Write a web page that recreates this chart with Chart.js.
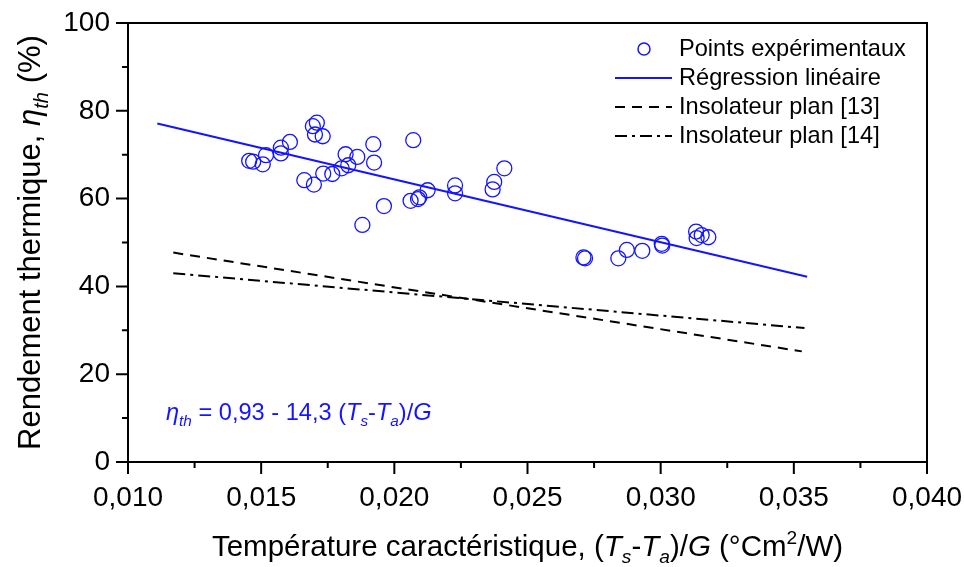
<!DOCTYPE html>
<html>
<head>
<meta charset="utf-8">
<script src="https://cdn.jsdelivr.net/npm/chart.js@4.4.0/dist/chart.umd.min.js"></script>
<style>
  html, body { margin: 0; padding: 0; background: #fff; }
</style>
</head>
<body>
<canvas id="myChart" width="964" height="567"></canvas>
<script>
const pointsX = [0.01455, 0.01470, 0.01506, 0.01518, 0.01574, 0.01574, 0.01608, 0.01694, 0.01709, 0.01702,
    0.01731, 0.01662, 0.01698, 0.01733, 0.01767, 0.01802, 0.01817, 0.01827, 0.01861, 0.01921,
    0.01924, 0.01961, 0.01880, 0.02071, 0.02061, 0.02094, 0.02089, 0.02125, 0.02228, 0.02228,
    0.02369, 0.02375, 0.02413, 0.02710, 0.02716, 0.02841, 0.02873, 0.02931, 0.03004, 0.03006,
    0.03133, 0.03135, 0.03154, 0.03179];
const pointsY = [68.6, 68.4, 67.8, 69.9, 71.6, 70.3, 72.9, 76.5, 77.3, 74.6,
    74.2, 64.2, 63.2, 65.7, 65.6, 66.9, 70.1, 67.6, 69.5, 72.4,
    68.2, 58.3, 54.0, 73.3, 59.5, 60.3, 59.9, 61.9, 63.0, 61.2,
    62.1, 63.8, 66.9, 46.6, 46.4, 46.4, 48.3, 48.1, 49.7, 49.3,
    52.5, 51.0, 51.7, 51.2];

// lines
const regX = [0.0111, 0.0355];
const regY = [77.1, 42.2];
const ref13X = [0.0117, 0.0353];
const ref13Y = [47.7, 25.2];
const ref14X = [0.0117, 0.0354];
const ref14Y = [43.0, 30.5];

const seriesLabels = ['Points expérimentaux', 'Régression linéaire', 'Insolateur plan [13]', 'Insolateur plan [14]'];

// axes
const xTicks = [0.010, 0.015, 0.020, 0.025, 0.030, 0.035, 0.040];
const yTicks = [0, 20, 40, 60, 80, 100];

const BLUE = '#1414ff';
const FONT = '"Liberation Sans", Arial, sans-serif';

function toPoints(xs, ys) {
    return xs.map((x, i) => ({ x: x, y: ys[i] }));
}

function drawRich(ctx, runs, x, y, size, align) {
    const fontFor = r => `${r.it ? 'italic ' : ''}${(r.sub || r.sup) ? size * 0.65 : size}px ${FONT}`;
    let w = 0;
    runs.forEach(r => { ctx.font = fontFor(r); w += ctx.measureText(r.t).width; });
    let cx = align == 'center' ? x - w / 2 : x;
    ctx.textAlign = 'left';
    ctx.textBaseline = 'alphabetic';
    runs.forEach(r => {
        ctx.font = fontFor(r);
        let dy = r.sub ? size * 0.25 : (r.sup ? -size * 0.42 : 0);
        ctx.fillText(r.t, cx, y + dy);
        cx += ctx.measureText(r.t).width;
    });
}

const decorPlugin = {
    id: 'decor',
    afterDraw(chart) {
        const ctx = chart.ctx;
        const a = chart.chartArea;
        const xs = chart.scales.x;
        const ys = chart.scales.y;
        ctx.save();

        // frame
        ctx.strokeStyle = '#000';
        ctx.lineWidth = 2;
        ctx.strokeRect(a.left, a.top, a.right - a.left, a.bottom - a.top);

        // ticks (major outward 12px, minor 6px)
        ctx.beginPath();
        xTicks.forEach((v, i) => {
            let px = xs.getPixelForValue(v);
            ctx.moveTo(px, a.bottom);
            ctx.lineTo(px, a.bottom + 12);
            if (i < xTicks.length - 1) {
                let mx = xs.getPixelForValue((v + xTicks[i + 1]) / 2);
                ctx.moveTo(mx, a.bottom);
                ctx.lineTo(mx, a.bottom + 6);
            }
        });
        yTicks.forEach((v, i) => {
            let py = ys.getPixelForValue(v);
            ctx.moveTo(a.left, py);
            ctx.lineTo(a.left - 12, py);
            if (i < yTicks.length - 1) {
                let my = ys.getPixelForValue((v + yTicks[i + 1]) / 2);
                ctx.moveTo(a.left, my);
                ctx.lineTo(a.left - 6, my);
            }
        });
        ctx.stroke();

        // legend
        const rowY = [49, 78, 107, 136];
        ctx.font = `23.6px ${FONT}`;
        ctx.fillStyle = '#000';
        ctx.textAlign = 'left';
        ctx.textBaseline = 'middle';
        seriesLabels.forEach((lab, i) => {
            ctx.fillText(lab, 679, rowY[i]);
        });
        ctx.lineWidth = 1.5;
        ctx.strokeStyle = BLUE;
        ctx.beginPath();
        ctx.arc(644, rowY[0], 6, 0, Math.PI * 2);
        ctx.stroke();
        ctx.lineWidth = 2;
        ctx.beginPath();
        ctx.moveTo(615, rowY[1]);
        ctx.lineTo(672, rowY[1]);
        ctx.stroke();
        ctx.strokeStyle = '#000';
        ctx.setLineDash([10, 7]);
        ctx.beginPath();
        ctx.moveTo(615, rowY[2]);
        ctx.lineTo(672, rowY[2]);
        ctx.stroke();
        ctx.setLineDash([12, 5, 3, 5]);
        ctx.beginPath();
        ctx.moveTo(615, rowY[3]);
        ctx.lineTo(672, rowY[3]);
        ctx.stroke();
        ctx.setLineDash([]);

        // equation
        ctx.fillStyle = BLUE;
        drawRich(ctx, [
            { t: 'η', it: true }, { t: 'th', it: true, sub: true },
            { t: ' = 0,93 - 14,3 (' }, { t: 'T', it: true }, { t: 's', it: true, sub: true },
            { t: '-' }, { t: 'T', it: true }, { t: 'a', it: true, sub: true },
            { t: ')/' }, { t: 'G', it: true }
        ], 166, 420, 23.6, 'left');

        // axis titles
        ctx.fillStyle = '#000';
        drawRich(ctx, [
            { t: 'Température caractéristique, (' }, { t: 'T', it: true }, { t: 's', it: true, sub: true },
            { t: '-' }, { t: 'T', it: true }, { t: 'a', it: true, sub: true },
            { t: ')/' }, { t: 'G', it: true }, { t: ' (°Cm' }, { t: '2', sup: true }, { t: '/W)' }
        ], (a.left + a.right) / 2, 556, 29.5, 'center');

        ctx.translate(40, (a.top + a.bottom) / 2);
        ctx.rotate(-Math.PI / 2);
        drawRich(ctx, [
            { t: 'Rendement thermique, ' }, { t: 'η', it: true }, { t: 'th', it: true, sub: true },
            { t: ' (%)' }
        ], 0, 0, 31, 'center');

        ctx.restore();
    }
};

const ctx = document.getElementById('myChart');
const myChart = new Chart(ctx, {
    type: 'scatter',
    data: {
        datasets: [{
            label: seriesLabels[0],
            data: toPoints(pointsX, pointsY),
            pointStyle: 'circle',
            pointRadius: 7.5,
            borderColor: BLUE,
            backgroundColor: 'rgba(0,0,0,0)',
            borderWidth: 1.3,
            order: 0
        }, {
            label: seriesLabels[1],
            data: toPoints(regX, regY),
            showLine: true,
            borderColor: BLUE,
            borderWidth: 2,
            pointRadius: 0,
            order: 1
        }, {
            label: seriesLabels[2],
            data: toPoints(ref13X, ref13Y),
            showLine: true,
            borderColor: '#000',
            borderWidth: 2,
            borderDash: [10, 7],
            pointRadius: 0,
            order: 2
        }, {
            label: seriesLabels[3],
            data: toPoints(ref14X, ref14Y),
            showLine: true,
            borderColor: '#000',
            borderWidth: 2,
            borderDash: [12, 5, 3, 5],
            pointRadius: 0,
            order: 3
        }]
    },
    options: {
        responsive: false,
        animation: false,
        devicePixelRatio: 1,
        layout: {
            padding: 0
        },
        scales: {
            x: {
                type: 'linear',
                min: 0.010,
                max: 0.040,
                afterBuildTicks: s => { s.ticks = xTicks.map(v => ({ value: v })); },
                afterFit: s => {
                    s.height = 105;
                    s.paddingLeft = 0;
                    s.paddingRight = 37;
                },
                grid: { display: false, drawTicks: false },
                border: { display: false },
                ticks: {
                    padding: 19,
                    color: '#000',
                    font: { size: 28, family: FONT },
                    callback: v => v.toFixed(3).replace('.', ',')
                }
            },
            y: {
                min: 0,
                max: 100,
                afterBuildTicks: s => { s.ticks = yTicks.map(v => ({ value: v })); },
                afterFit: s => {
                    s.width = 128;
                    s.paddingTop = 23;
                    s.paddingBottom = 0;
                },
                grid: { display: false, drawTicks: false },
                border: { display: false },
                ticks: {
                    padding: 18,
                    color: '#000',
                    font: { size: 28, family: FONT },
                    callback: v => String(v)
                }
            }
        },
        plugins: {
            legend: { display: false },
            tooltip: { enabled: false }
        }
    },
    plugins: [decorPlugin]
});
</script>
</body>
</html>
